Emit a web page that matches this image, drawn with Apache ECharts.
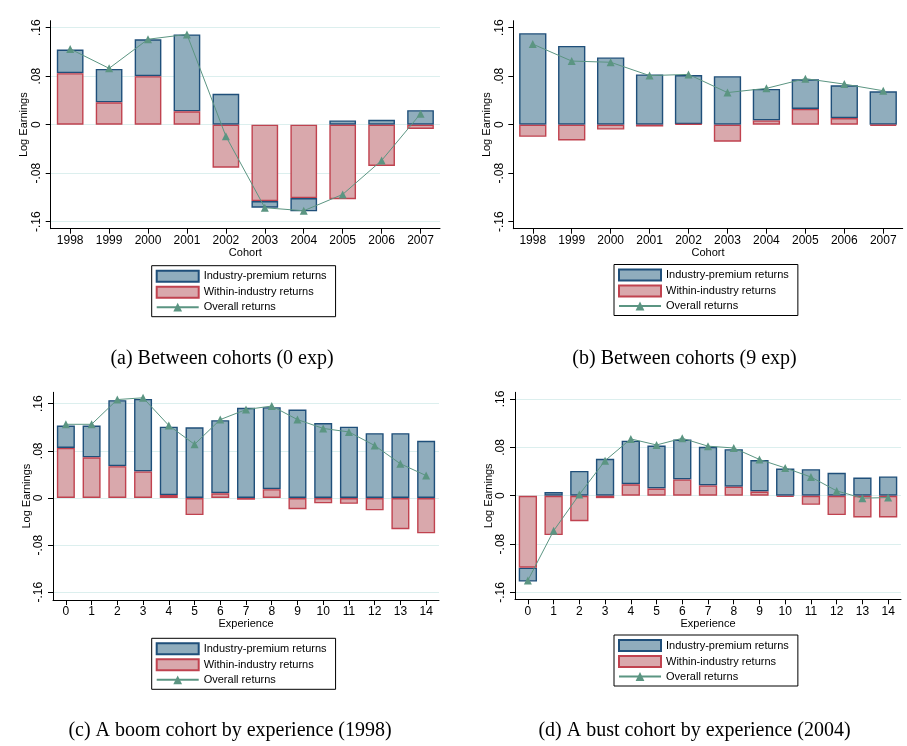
<!DOCTYPE html>
<html>
<head>
<meta charset="utf-8">
<title>Industry-premium and within-industry returns</title>
<script src="https://cdn.jsdelivr.net/npm/echarts@6/dist/echarts.min.js"></script>
<style>
  html, body { margin: 0; padding: 0; background: #ffffff; }
  #chart { width: 907px; height: 746px; }
</style>
</head>
<body>
<div id="chart"></div>
<script>
// Categories
const cohorts = ['1998', '1999', '2000', '2001', '2002', '2003', '2004', '2005', '2006', '2007'];
const experience = ['0', '1', '2', '3', '4', '5', '6', '7', '8', '9', '10', '11', '12', '13', '14'];
const yTicks = [-0.16, -0.08, 0, 0.08, 0.16];

// (a) Between cohorts, 0 years of experience
const withinA  = [0.085, 0.037, 0.080, 0.022, -0.071, -0.126, -0.121, -0.123, -0.068, -0.007];
const premiumA = [0.039, 0.055, 0.061, 0.127, 0.051, -0.011, -0.022, 0.007, 0.008, 0.024];
const overallA = [0.125, 0.093, 0.141, 0.149, -0.019, -0.137, -0.142, -0.115, -0.059, 0.018];

// (b) Between cohorts, 9 years of experience
const withinB  = [-0.020, -0.026, -0.008, -0.003, 0.001, -0.028, 0.007, 0.026, 0.011, -0.002];
const premiumB = [0.151, 0.130, 0.111, 0.083, 0.081, 0.080, 0.052, 0.049, 0.054, 0.055];
const overallB = [0.133, 0.105, 0.103, 0.081, 0.083, 0.053, 0.060, 0.076, 0.067, 0.056];

// (c) Boom cohort (1998) by experience
const withinC  = [0.085, 0.069, 0.054, 0.045, 0.005, -0.029, 0.008, -0.003, 0.015, -0.019, -0.009, -0.010, -0.021, -0.053, -0.060];
const premiumC = [0.038, 0.054, 0.112, 0.123, 0.116, 0.120, 0.124, 0.153, 0.139, 0.150, 0.127, 0.121, 0.110, 0.110, 0.097];
const overallC = [0.125, 0.125, 0.167, 0.170, 0.123, 0.091, 0.133, 0.150, 0.156, 0.133, 0.118, 0.112, 0.089, 0.058, 0.038];

// (d) Bust cohort (2004) by experience
const withinD  = [-0.119, -0.065, -0.042, -0.004, 0.019, 0.012, 0.027, 0.017, 0.015, 0.007, -0.002, -0.015, -0.032, -0.036, -0.036];
const premiumD = [-0.023, 0.006, 0.041, 0.061, 0.072, 0.071, 0.066, 0.064, 0.062, 0.052, 0.045, 0.044, 0.038, 0.030, 0.032];
const overallD = [-0.140, -0.058, 0.002, 0.058, 0.094, 0.084, 0.095, 0.082, 0.079, 0.060, 0.046, 0.031, 0.008, -0.004, -0.003];

const SANS = '"Liberation Sans", Arial, sans-serif';
const SERIF = '"Liberation Serif", "Times New Roman", serif';
const NAME_PREM = 'Industry-premium returns';
const NAME_WITHIN = 'Within-industry returns';
const NAME_OVERALL = 'Overall returns';

const panels = [
  { cats: cohorts, xName: 'Cohort', within: withinA, premium: premiumA, overall: overallA,
    grid: { left: 50.7, top: 20.7, width: 389.3, height: 208 }, yMin: -0.1716, yMax: 0.1716,
    barWidth: 26.7, gridLines: true, legend: { left: 151.7, top: 265.7 } },
  { cats: cohorts, xName: 'Cohort', within: withinB, premium: premiumB, overall: overallB,
    grid: { left: 513.3, top: 20.7, width: 389.4, height: 208 }, yMin: -0.1716, yMax: 0.1716,
    barWidth: 27.3, gridLines: false, legend: { left: 614, top: 264.5 } },
  { cats: experience, xName: 'Experience', within: withinC, premium: premiumC, overall: overallC,
    grid: { left: 53, top: 392.3, width: 386, height: 207.7 }, yMin: -0.1731, yMax: 0.1793,
    barWidth: 18, gridLines: true, legend: { left: 151.7, top: 638.3 } },
  { cats: experience, xName: 'Experience', within: withinD, premium: premiumD, overall: overallD,
    grid: { left: 515, top: 392.3, width: 386, height: 207 }, yMin: -0.1713, yMax: 0.1711,
    barWidth: 18.3, gridLines: true, legend: { left: 614, top: 635 } }
];

function tickText(v) {
  if (v === 0) return '0';
  return String(v).replace('0.', '.');
}

const option = {
  backgroundColor: '#ffffff',
  animation: false,
  grid: [], xAxis: [], yAxis: [], series: [], legend: [],
  graphic: []
};

panels.forEach((p, i) => {
  option.grid.push(Object.assign({ outerBoundsMode: 'none', containLabel: false }, p.grid));
  option.xAxis.push({
    type: 'category', gridIndex: i, data: p.cats, boundaryGap: true,
    name: p.xName, nameLocation: 'middle', nameGap: 17,
    nameTextStyle: { fontFamily: SANS, fontSize: 11, color: '#000' },
    axisLine: { show: true, onZero: false, lineStyle: { color: '#000', width: 1 } },
    axisTick: { show: true, alignWithLabel: true, length: 5, lineStyle: { color: '#000' } },
    axisLabel: { fontFamily: SANS, fontSize: 12, color: '#000', margin: 6, interval: 0 },
    splitLine: { show: false }
  });
  option.yAxis.push({
    type: 'value', gridIndex: i, min: p.yMin, max: p.yMax,
    name: 'Log Earnings', nameLocation: 'middle', nameGap: 21, nameRotate: 90,
    nameTextStyle: { fontFamily: SANS, fontSize: 11, color: '#000' },
    axisLine: { show: true, lineStyle: { color: '#000', width: 1 } },
    axisTick: { show: true, length: 5, customValues: yTicks, lineStyle: { color: '#000' } },
    axisLabel: { fontFamily: SANS, fontSize: 12, color: '#000', rotate: 90, margin: 8,
      align: 'center', verticalAlign: 'bottom',
      customValues: yTicks, formatter: tickText },
    splitLine: { show: p.gridLines, lineStyle: { color: '#dcefee', width: 1 } }
  });
  const stackId = 'returns' + i;
  option.series.push({
    type: 'bar', name: NAME_WITHIN, xAxisIndex: i, yAxisIndex: i, stack: stackId,
    data: p.within, barWidth: p.barWidth, z: 3,
    itemStyle: { color: '#d9a8ac', borderColor: '#c0424f', borderWidth: 1.4 }
  });
  option.series.push({
    type: 'bar', name: NAME_PREM, xAxisIndex: i, yAxisIndex: i, stack: stackId,
    data: p.premium, barWidth: p.barWidth, z: 2,
    itemStyle: { color: '#90adbd', borderColor: '#1f4f7a', borderWidth: 1.4 }
  });
  option.series.push({
    type: 'line', name: NAME_OVERALL, xAxisIndex: i, yAxisIndex: i,
    data: p.overall, z: 5, symbol: 'triangle', symbolSize: 8, showSymbol: true,
    lineStyle: { color: '#5b9582', width: 1 },
    itemStyle: { color: '#5b9582', borderWidth: 0 }
  });
  option.legend.push({
    left: p.legend.left, top: p.legend.top, orient: 'vertical',
    data: [
      { name: NAME_PREM, icon: 'rect' },
      { name: NAME_WITHIN, icon: 'rect' },
      { name: NAME_OVERALL }
    ],
    itemWidth: 42, itemHeight: 11, itemGap: 3,
    padding: [4, 9, 4, 4],
    borderColor: '#000', borderWidth: 1, borderRadius: 0, backgroundColor: '#fff',
    selectedMode: false,
    textStyle: { fontFamily: SANS, fontSize: 11, color: '#000' }
  });
});

// Panel captions
const captions = [
  { text: '(a) Between cohorts (0 exp)', x: 222, y: 359 },
  { text: '(b) Between cohorts (9 exp)', x: 684.5, y: 359 },
  { text: '(c) A boom cohort by experience (1998)', x: 230, y: 731 },
  { text: '(d) A bust cohort by experience (2004)', x: 694.5, y: 731 }
];
captions.forEach(c => {
  option.graphic.push({
    type: 'text', x: c.x, y: c.y, z: 10,
    style: { text: c.text, fontFamily: SERIF, fontSize: 20, fill: '#000',
      textAlign: 'center', textVerticalAlign: 'middle' }
  });
});

const chart = echarts.init(document.getElementById('chart'), null, { renderer: 'canvas' });
chart.setOption(option);
</script>
</body>
</html>
